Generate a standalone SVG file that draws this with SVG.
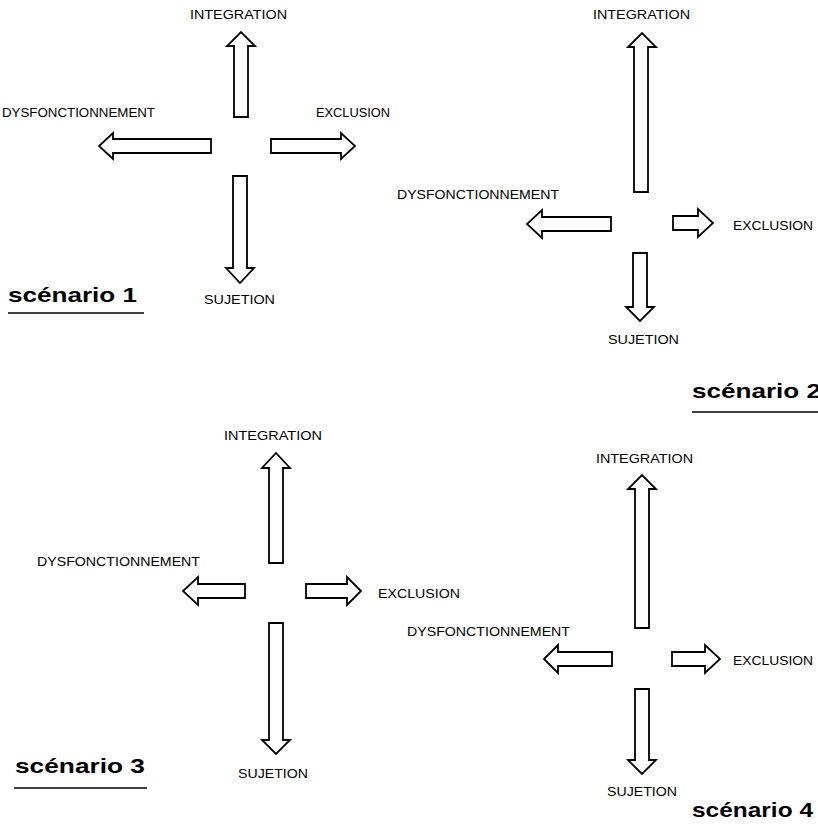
<svg xmlns="http://www.w3.org/2000/svg" width="818" height="830" viewBox="0 0 818 830">
<style>
.ar{fill:#fff;stroke:#000;stroke-width:1.8;stroke-linejoin:miter}
.lb{font-family:"Liberation Sans",Arial,sans-serif;font-size:13px;fill:#000}
.sc{font-family:"Liberation Sans",Arial,sans-serif;font-size:21px;font-weight:bold;fill:#000}
.ul{stroke:#000;stroke-width:1.6}
</style>
<rect width="818" height="830" fill="#fff"/>
<g id="connectors">
<g id="arrows-s1">
<path class="ar" d="M234,117 L234,46 L227,46 L241,32 L255,46 L248,46 L248,117 Z"/>
<path class="ar" d="M211,139 L113,139 L113,133 L99,146 L113,159 L113,153 L211,153 Z"/>
<path class="ar" d="M271,139 L341,139 L341,133 L355,146 L341,159 L341,153 L271,153 Z"/>
<path class="ar" d="M233,176 L247,176 L247,268 L254,268 L240,283 L226,268 L233,268 Z"/>
</g>
<g id="arrows-s2">
<path class="ar" d="M634,192 L634,47 L628,47 L642,33 L656,47 L648,47 L648,192 Z"/>
<path class="ar" d="M611,217 L542,217 L542,210 L527,224 L542,238 L542,231 L611,231 Z"/>
<path class="ar" d="M673,216 L698,216 L698,209 L713,223 L698,237 L698,230 L673,230 Z"/>
<path class="ar" d="M633,253 L647,253 L647,307 L654,307 L640,321 L626,307 L633,307 Z"/>
</g>
<g id="arrows-s3">
<path class="ar" d="M269,563 L269,468 L262,468 L276,453 L290,468 L283,468 L283,563 Z"/>
<path class="ar" d="M245,584 L198,584 L198,577 L183,591 L198,605 L198,598 L245,598 Z"/>
<path class="ar" d="M306,584 L347,584 L347,577 L361,591 L347,605 L347,598 L306,598 Z"/>
<path class="ar" d="M269,623 L283,623 L283,740 L290,740 L276,754 L262,740 L269,740 Z"/>
</g>
<g id="arrows-s4">
<path class="ar" d="M635,628 L635,489 L628,489 L642,475 L656,489 L649,489 L649,628 Z"/>
<path class="ar" d="M612,652 L558,652 L558,645 L544,659 L558,673 L558,666 L612,666 Z"/>
<path class="ar" d="M672,652 L705,652 L705,645 L720,659 L705,673 L705,666 L672,666 Z"/>
<path class="ar" d="M635,689 L649,689 L649,760 L656,760 L642,774 L628,760 L635,760 Z"/>
</g>
</g>
<g id="s1-integration"><text class="lb" x="190" y="19" textLength="97" lengthAdjust="spacingAndGlyphs">INTEGRATION</text></g>
<g id="s1-dysfonctionnement"><text class="lb" x="2" y="117" textLength="153" lengthAdjust="spacingAndGlyphs">DYSFONCTIONNEMENT</text></g>
<g id="s1-exclusion"><text class="lb" x="316" y="117" textLength="74" lengthAdjust="spacingAndGlyphs">EXCLUSION</text></g>
<g id="s1-sujetion"><text class="lb" x="204" y="304" textLength="71" lengthAdjust="spacingAndGlyphs">SUJETION</text></g>
<g id="s1-title"><text class="sc" x="8" y="302" textLength="129" lengthAdjust="spacingAndGlyphs">scénario 1</text><line class="ul" x1="8" y1="313" x2="144" y2="313"/></g>

<g id="s2-integration"><text class="lb" x="593" y="19" textLength="97" lengthAdjust="spacingAndGlyphs">INTEGRATION</text></g>
<g id="s2-dysfonctionnement"><text class="lb" x="397" y="199" textLength="162" lengthAdjust="spacingAndGlyphs">DYSFONCTIONNEMENT</text></g>
<g id="s2-exclusion"><text class="lb" x="733" y="230" textLength="80" lengthAdjust="spacingAndGlyphs">EXCLUSION</text></g>
<g id="s2-sujetion"><text class="lb" x="608" y="344" textLength="71" lengthAdjust="spacingAndGlyphs">SUJETION</text></g>
<g id="s2-title"><text class="sc" x="692" y="398" textLength="129" lengthAdjust="spacingAndGlyphs">scénario 2</text><line class="ul" x1="692" y1="412" x2="818" y2="412"/></g>

<g id="s3-integration"><text class="lb" x="224" y="440" textLength="98" lengthAdjust="spacingAndGlyphs">INTEGRATION</text></g>
<g id="s3-dysfonctionnement"><text class="lb" x="37" y="566" textLength="163" lengthAdjust="spacingAndGlyphs">DYSFONCTIONNEMENT</text></g>
<g id="s3-exclusion"><text class="lb" x="378" y="598" textLength="82" lengthAdjust="spacingAndGlyphs">EXCLUSION</text></g>
<g id="s3-sujetion"><text class="lb" x="238" y="778" textLength="70" lengthAdjust="spacingAndGlyphs">SUJETION</text></g>
<g id="s3-title"><text class="sc" x="15" y="773" textLength="130" lengthAdjust="spacingAndGlyphs">scénario 3</text><line class="ul" x1="14" y1="788" x2="147" y2="788"/></g>

<g id="s4-integration"><text class="lb" x="596" y="463" textLength="97" lengthAdjust="spacingAndGlyphs">INTEGRATION</text></g>
<g id="s4-dysfonctionnement"><text class="lb" x="407" y="636" textLength="163" lengthAdjust="spacingAndGlyphs">DYSFONCTIONNEMENT</text></g>
<g id="s4-exclusion"><text class="lb" x="733" y="665" textLength="80" lengthAdjust="spacingAndGlyphs">EXCLUSION</text></g>
<g id="s4-sujetion"><text class="lb" x="607" y="796" textLength="70" lengthAdjust="spacingAndGlyphs">SUJETION</text></g>
<g id="s4-title"><text class="sc" x="692" y="817" textLength="121" lengthAdjust="spacingAndGlyphs">scénario 4</text></g>
</svg>
